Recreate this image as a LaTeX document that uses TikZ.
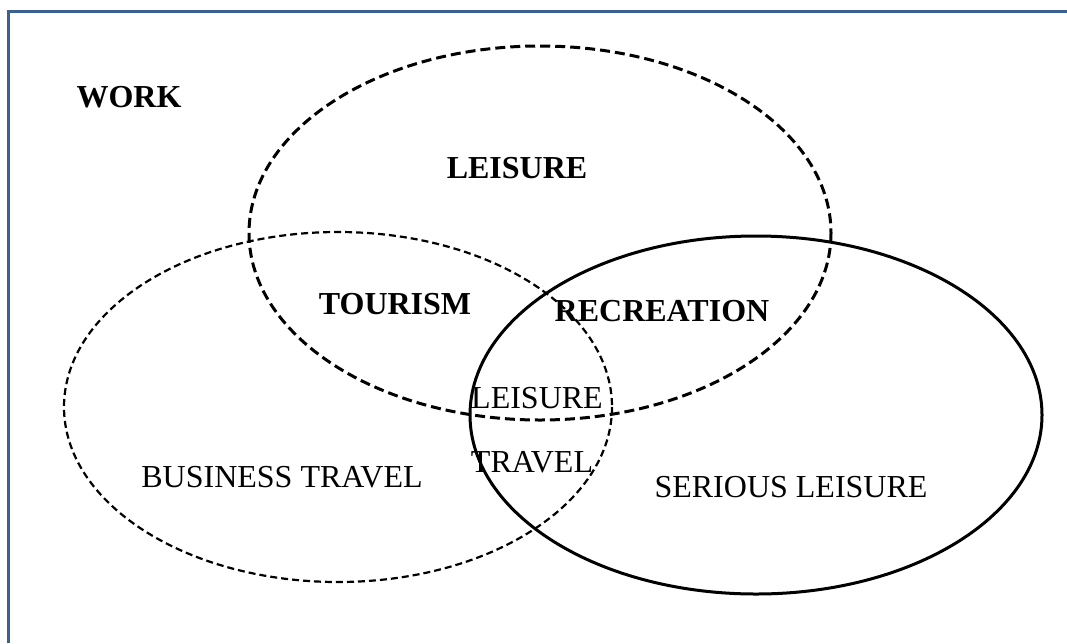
\documentclass[tikz,border=0pt]{standalone}
\usepackage{fontspec}
\setmainfont{Liberation Serif}
\definecolor{framecol}{HTML}{3A6190}
\begin{document}
\begin{tikzpicture}[x=1pt,y=-1pt,
  lbl/.style={inner sep=0pt,font=\fontsize{32}{32}\selectfont},
  blbl/.style={lbl,font=\fontsize{32}{32}\selectfont\bfseries},
  thickdash/.style={line width=3pt,dash pattern=on 10pt off 5pt},
  thindash/.style={line width=2.2pt,dash pattern=on 7pt off 4pt},
  solidline/.style={line width=3pt}]
\useasboundingbox (0,0) rectangle (1067,643);
\draw[framecol,line width=3pt] (8.5,643) -- (8.5,11.5) -- (1067,11.5);
\draw[thickdash] (540,233) ellipse [x radius=291, y radius=187];
\draw[thindash] (338,407) ellipse [x radius=274, y radius=175];
\draw[solidline] (756,415) ellipse [x radius=286, y radius=179];
\node[blbl] (work) at (129,97) {WORK};
\node[blbl] (leisure) at (517,168) {LEISURE};
\node[blbl] (tourism) at (395,304) {TOURISM};
\node[blbl] (recreation) at (662,311) {RECREATION};
\node[lbl] (lt1) at (537,398) {LEISURE};
\node[lbl] (lt2) at (532,462) {TRAVEL};
\node[lbl] (bt) at (282,477) {BUSINESS TRAVEL};
\node[lbl] (sl) at (791,487) {SERIOUS LEISURE};
\end{tikzpicture}
\end{document}
